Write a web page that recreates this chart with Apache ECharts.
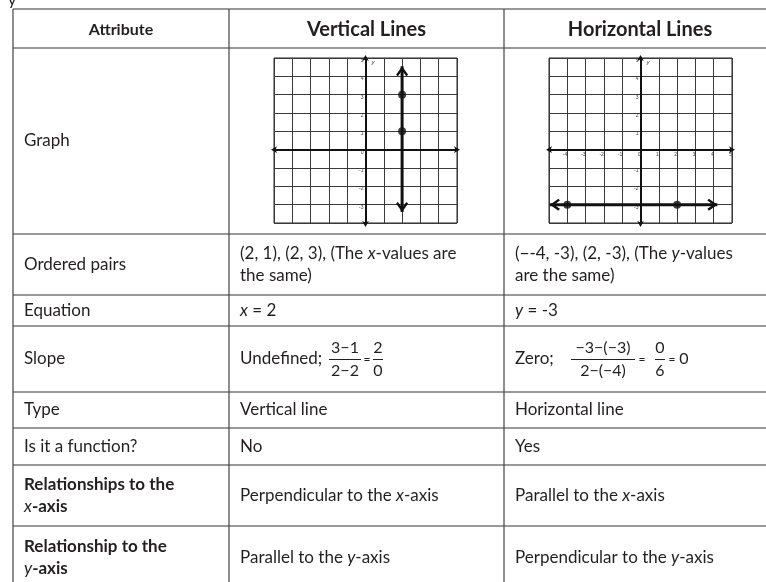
<!DOCTYPE html>
<html>
<head>
<meta charset="utf-8">
<title>Vertical and Horizontal Lines</title>
<script src="https://cdn.jsdelivr.net/npm/echarts@6/dist/echarts.min.js"></script>
<style>
  html, body { margin: 0; padding: 0; background: #fff; }
  #chart { width: 766px; height: 582px; }
</style>
</head>
<body>
<div id="chart"></div>
<script>
// table text
var headers = ['Attribute', 'Vertical Lines', 'Horizontal Lines'];
var attributes = ['Graph', 'Ordered pairs', 'Equation', 'Slope', 'Type', 'Is it a function?',
  '{b|Relationships to the}\n{i|x}{b|-axis}', '{b|Relationship to the}\n{i|y}{b|-axis}'];
var verticalCol = ['', '(2, 1), (2, 3), (The {i|x}-values are\nthe same)', '{i|x} = 2', 'Undefined;',
  'Vertical line', 'No', 'Perpendicular to the {i|x}-axis', 'Parallel to the {i|y}-axis'];
var horizontalCol = ['', '(−-4, -3), (2, -3), (The {i|y}-values\nare the same)', '{i|y} = -3', 'Zero;',
  'Horizontal line', 'Yes', 'Parallel to the {i|x}-axis', 'Perpendicular to the {i|y}-axis'];

// slope fractions
var vSlopeNum = ['3−1', '2'];
var vSlopeDen = ['2−2', '0'];
var hSlopeNum = ['−3−(−3)', '0'];
var hSlopeDen = ['2−(−4)', '6'];
var hSlopeResult = '0';

// graphs
var xRange = [-5, 5];
var yRange = [-4, 5];
var yTickLabels = [-3, -2, -1, 0, 1, 2, 3, 4, 5];
var hxTickLabels = [-4, -3, -2, -1, 0, 1, 2, 3, 4, 5];
var vLineEnds = [[2, -3.4], [2, 4.55]];
var vPoints = [[2, 1], [2, 3]];
var hLineEnds = [[-4.95, -3], [4.2, -3]];
var hPoints = [[-4, -3], [2, -3]];

// layout
var L = 13, C1 = 229, C2 = 504, R = 776;
var rowEdges = [9, 48, 234, 295, 326, 392, 428, 465, 526, 590];
var GX = [274, 549], GY = 58, GW = 183, GH = 165;
var FONT = 'Lato, "Noto Sans", sans-serif';
var INK = '#231f20';
var SIZE = 17, LH = 22;

function rich(size) {
  return {
    i: { fontFamily: FONT, fontSize: size, fontStyle: 'italic', fill: INK, lineHeight: LH },
    b: { fontFamily: FONT, fontSize: size, fontWeight: 'bold', fill: INK, lineHeight: LH }
  };
}

function txt(x, y, text, opts) {
  opts = opts || {};
  var size = opts.size || SIZE;
  return {
    type: 'text', x: x, y: y, silent: true, z: 10,
    style: {
      text: text, fontFamily: FONT, fontSize: size,
      fontWeight: opts.bold ? 'bold' : 'normal', fill: INK,
      align: opts.align || 'left', verticalAlign: 'middle',
      lineHeight: LH, rich: rich(size)
    }
  };
}

function seg(x1, y1, x2, y2, color, w) {
  return {
    type: 'line', silent: true, z: 5,
    shape: { x1: x1, y1: y1, x2: x2, y2: y2 },
    style: { stroke: color, lineWidth: w }
  };
}

var graphics = [];
// cut off text of the line above the table
graphics.push({ type: 'text', x: 8, y: 8, silent: true,
  style: { text: 'y', fontFamily: FONT, fontSize: 16, fill: INK, verticalAlign: 'bottom' } });

for (var r = 0; r < rowEdges.length; r++) {
  graphics.push(seg(L, rowEdges[r], R, rowEdges[r], r === 0 ? '#333' : '#777', r === 0 ? 1.2 : 1.6));
}
[L, C1, C2].forEach(function (x) {
  graphics.push(seg(x, rowEdges[0], x, 582, '#444', 1.2));
});

var colCenters = [(L + C1) / 2, (C1 + C2) / 2, (C2 + R) / 2];
headers.forEach(function (h, i) {
  graphics.push(txt(colCenters[i], (rowEdges[0] + rowEdges[1]) / 2 + 1, h,
    { bold: true, size: i === 0 ? 16 : 20, align: 'center' }));
});

attributes.forEach(function (a, i) {
  var mid = (rowEdges[i + 1] + rowEdges[i + 2]) / 2;
  graphics.push(txt(L + 11, mid, a));
  if (verticalCol[i]) graphics.push(txt(C1 + 11, mid, verticalCol[i]));
  if (horizontalCol[i]) graphics.push(txt(C2 + 11, mid, horizontalCol[i]));
});

// slope fractions
function frac(cx, mid, num, den, w) {
  graphics.push(txt(cx, mid - 11, num, { align: 'center', size: 16 }));
  graphics.push(txt(cx, mid + 12, den, { align: 'center', size: 16 }));
  graphics.push(seg(cx - w / 2, mid + 0.5, cx + w / 2, mid + 0.5, INK, 1));
}
var slopeMid = (rowEdges[4] + rowEdges[5]) / 2;
frac(345, slopeMid, vSlopeNum[0], vSlopeDen[0], 32);
graphics.push(txt(367, slopeMid, '=', { align: 'center', size: 12 }));
frac(378, slopeMid, vSlopeNum[1], vSlopeDen[1], 10);
frac(603, slopeMid, hSlopeNum[0], hSlopeDen[0], 64);
graphics.push(txt(642, slopeMid, '=', { align: 'center', size: 12 }));
frac(660, slopeMid, hSlopeNum[1], hSlopeDen[1], 10);
graphics.push(txt(672, slopeMid, '=', { align: 'center', size: 12 }));
graphics.push(txt(684, slopeMid, hSlopeResult, { align: 'center', size: 16 }));

var chevron = 'path://M6,0 L12,9 L10.2,10.6 L6,4.4 L1.8,10.6 L0,9 Z';

// axes crossing at the origin: shift them into the grid with offset
function makeAxes(idx, showX, yHide) {
  var xOff = -GH * (0 - yRange[0]) / (yRange[1] - yRange[0]);
  var yOff = -GW * (0 - xRange[0]) / (xRange[1] - xRange[0]);
  var x = {
    gridIndex: idx, type: 'value', min: xRange[0], max: xRange[1], interval: 1,
    position: 'bottom', offset: xOff,
    axisLine: { onZero: false, lineStyle: { color: '#111', width: 2 },
      symbol: ['arrow', 'arrow'], symbolSize: [5, 6], symbolOffset: [-3, 3] },
    axisTick: { show: false },
    axisLabel: { show: showX, fontSize: 5, color: '#444', align: 'right', verticalAlign: 'top', margin: 2,
      formatter: function (v) { return hxTickLabels.indexOf(v) >= 0 ? String(v) : ''; } },
    splitLine: { show: true, lineStyle: { color: '#3a3a3a', width: 1 } }
  };
  var y = {
    gridIndex: idx, type: 'value', min: yRange[0], max: yRange[1], interval: 1,
    position: 'left', offset: yOff,
    name: 'y', nameLocation: 'end', nameGap: -7,
    nameTextStyle: { fontSize: 6, fontStyle: 'italic', color: '#444', align: 'left', padding: [0, 0, 0, 6] },
    axisLine: { onZero: false, lineStyle: { color: '#111', width: 2 },
      symbol: ['arrow', 'arrow'], symbolSize: [5, 6], symbolOffset: [-4, 3] },
    axisTick: { show: false },
    axisLabel: { fontSize: 5, color: '#444', align: 'right', verticalAlign: 'top', margin: 2,
      formatter: function (v) { return yTickLabels.indexOf(v) >= 0 && v !== yHide ? String(v) : ''; } },
    splitLine: { show: true, lineStyle: { color: '#3a3a3a', width: 1 } }
  };
  return [x, y];
}

var vAxes = makeAxes(0, false, null);
var hAxes = makeAxes(1, true, 0);

function lineSeries(idx, ends, rotations, offsets) {
  return {
    type: 'line', xAxisIndex: idx, yAxisIndex: idx, silent: true, z: 4,
    data: ends.map(function (p, i) {
      return { value: p, symbol: chevron, symbolRotate: rotations[i], symbolOffset: offsets[i] };
    }),
    symbolSize: [12, 10],
    lineStyle: { color: '#111', width: 3 },
    itemStyle: { color: '#111' }
  };
}

function pointSeries(idx, pts) {
  return {
    type: 'scatter', xAxisIndex: idx, yAxisIndex: idx, silent: true, z: 6,
    data: pts, symbolSize: 8, itemStyle: { color: '#111' }
  };
}

var chart = echarts.init(document.getElementById('chart'), null, { renderer: 'canvas' });
chart.setOption({
  animation: false,
  grid: GX.map(function (gx) {
    return { left: gx, top: GY, width: GW, height: GH, show: true, borderColor: '#222', borderWidth: 1 };
  }),
  xAxis: [vAxes[0], hAxes[0]],
  yAxis: [vAxes[1], hAxes[1]],
  series: [
    lineSeries(0, vLineEnds, [180, 0], [[0, -5], [0, 5]]),
    pointSeries(0, vPoints),
    lineSeries(1, hLineEnds, [90, -90], [[5, 0], [-5, 0]]),
    pointSeries(1, hPoints)
  ],
  graphic: graphics
});
</script>
</body>
</html>
